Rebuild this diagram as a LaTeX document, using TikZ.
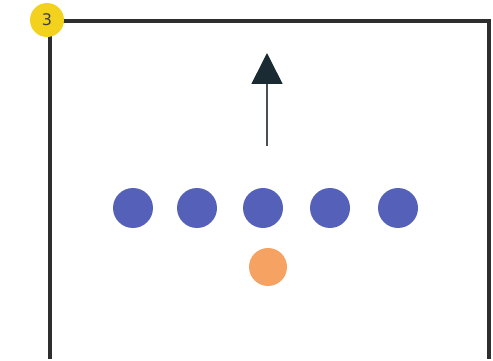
\documentclass[tikz,border=0pt]{standalone}
\usepackage{fontspec}
\setmainfont{DejaVu Sans}
\usetikzlibrary{arrows.meta}
\definecolor{boxline}{HTML}{2E2E2E}
\definecolor{dotblue}{HTML}{5561B9}
\definecolor{dotorange}{HTML}{F5A263}
\definecolor{badgey}{HTML}{F2D21C}
\definecolor{arrowc}{HTML}{1B2B33}
\definecolor{shaftc}{HTML}{4A4F55}
\tikzset{
  player/.style={circle, fill=dotblue, minimum size=40pt, inner sep=0pt},
  ball/.style={circle, fill=dotorange, minimum size=38pt, inner sep=0pt},
  badge/.style={circle, fill=badgey, minimum size=34pt, inner sep=0pt, font=\fontsize{16}{16}\selectfont, text=black!75},
  frame/.style={draw=boxline, line width=3.2pt},
  mover/.style={draw=shaftc, line width=1.6pt, -{Triangle[length=31pt,width=31pt,color=arrowc]}}
}
\begin{document}
\begin{tikzpicture}[x=1pt,y=-1pt]
\useasboundingbox (0,0) rectangle (493,361);
\draw[frame] (50,359) -- (50,21) -- (489,21) -- (489,359);
\node[badge] (b) at (47,20) {3};
\coordinate (s) at (267,146);
\coordinate (t) at (267,53);
\draw[mover] (s) -- (t);
\node[player] (p1) at (133,208) {};
\node[player] (p2) at (197,208) {};
\node[player] (p3) at (263,208) {};
\node[player] (p4) at (330,208) {};
\node[player] (p5) at (398,208) {};
\node[ball] (o) at (268,267) {};
\end{tikzpicture}
\end{document}
